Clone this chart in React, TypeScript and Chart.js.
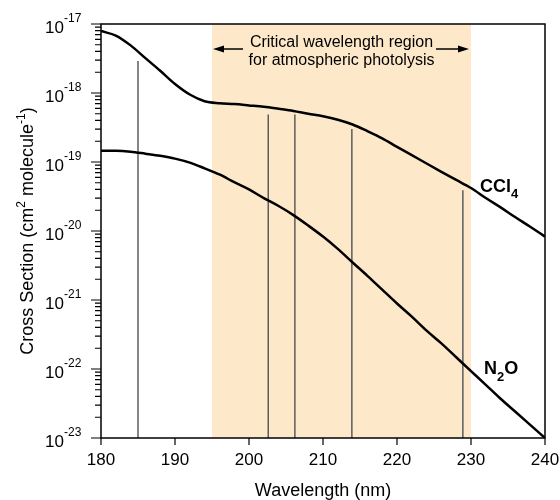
import React, { useEffect, useRef } from "react";
import { Chart, registerables } from "chart.js";

Chart.register(...registerables);

// ---- data ----
const wavelengths = [180, 182, 184, 186, 188, 190, 192, 194, 196, 198, 200, 202, 204, 206, 208, 210, 212, 214, 216, 218, 220, 222, 224, 226, 228, 230, 232, 234, 236, 238, 240];
const ccl4 = [7.9e-18, 6.8e-18, 4.9e-18, 3.2e-18, 2.1e-18, 1.35e-18, 9.5e-19, 7.6e-19, 7.1e-19, 6.9e-19, 6.6e-19, 6.3e-19, 5.9e-19, 5.5e-19, 5.0e-19, 4.6e-19, 4.1e-19, 3.5e-19, 2.8e-19, 2.2e-19, 1.66e-19, 1.26e-19, 9.5e-20, 7.2e-20, 5.5e-20, 4.2e-20, 3.0e-20, 2.2e-20, 1.58e-20, 1.15e-20, 8.3e-21];
const n2o = [1.45e-19, 1.45e-19, 1.41e-19, 1.32e-19, 1.23e-19, 1.12e-19, 9.8e-20, 8.1e-20, 6.6e-20, 5.1e-20, 4.0e-20, 3.0e-20, 2.3e-20, 1.7e-20, 1.2e-20, 8.3e-21, 5.5e-21, 3.5e-21, 2.24e-21, 1.41e-21, 8.9e-22, 5.75e-22, 3.6e-22, 2.35e-22, 1.48e-22, 9.3e-23, 5.9e-23, 3.7e-23, 2.4e-23, 1.55e-23, 1.0e-23];
const lineWavelengths = [185, 202.6, 206.2, 213.9, 228.9];
const lineTops = [2.9e-18, 4.9e-19, 4.9e-19, 3.0e-19, 3.9e-20];
const regionStart = 195;
const regionEnd = 230;
const xTicks = [180, 190, 200, 210, 220, 230, 240];
const yExponents = [-17, -18, -19, -20, -21, -22, -23];
const yMin = 1e-23;
const yMax = 1e-17;
const regionText = ["Critical wavelength region", "for atmospheric photolysis"];

const FONT = "'Liberation Sans', Arial, sans-serif";

const decorPlugin = {
  id: "decor",
  beforeDatasetsDraw(chart: any) {
    const { ctx, chartArea: a, scales } = chart;
    const x = scales.x;
    const x0 = x.getPixelForValue(regionStart);
    const x1 = x.getPixelForValue(regionEnd);
    ctx.save();
    ctx.fillStyle = "#fde9c9";
    ctx.fillRect(x0, a.top, x1 - x0, a.bottom - a.top);
    ctx.restore();
  },
  afterDraw(chart: any) {
    const { ctx, chartArea: a, scales } = chart;
    const x = scales.x;
    const y = scales.y;
    ctx.save();
    // frame
    ctx.strokeStyle = "#000";
    ctx.lineWidth = 1.5;
    ctx.strokeRect(a.left, a.top, a.right - a.left, a.bottom - a.top);

    // y ticks
    ctx.lineWidth = 1.2;
    ctx.beginPath();
    for (const e of yExponents) {
      const py = y.getPixelForValue(Math.pow(10, e));
      ctx.moveTo(a.left - 10, py);
      ctx.lineTo(a.left, py);
      if (e < -17) {
        for (let m = 2; m <= 9; m++) {
          const pm = y.getPixelForValue(m * Math.pow(10, e));
          ctx.moveTo(a.left - 6, pm);
          ctx.lineTo(a.left, pm);
        }
      }
    }
    // x ticks
    for (const t of xTicks) {
      const px = x.getPixelForValue(t);
      ctx.moveTo(px, a.bottom);
      ctx.lineTo(px, a.bottom + 7);
    }
    ctx.stroke();

    ctx.fillStyle = "#000";
    // y tick labels
    for (const e of yExponents) {
      const py = y.getPixelForValue(Math.pow(10, e));
      ctx.font = `17px ${FONT}`;
      ctx.textAlign = "right";
      ctx.textBaseline = "alphabetic";
      ctx.fillText("10", 64, py + 9);
      ctx.font = `12px ${FONT}`;
      ctx.textAlign = "left";
      ctx.fillText(String(e), 64, py - 2);
    }
    // x tick labels
    ctx.font = `17px ${FONT}`;
    ctx.textAlign = "center";
    for (const t of xTicks) {
      ctx.fillText(String(t), x.getPixelForValue(t), 465);
    }
    // x title
    ctx.font = `18px ${FONT}`;
    ctx.fillText("Wavelength (nm)", (a.left + a.right) / 2, 496);

    // y title with superscripts
    const segs = [
      { t: "Cross Section (cm", sup: false },
      { t: "2", sup: true },
      { t: " molecule", sup: false },
      { t: "-1", sup: true },
      { t: ")", sup: false },
    ];
    let total = 0;
    for (const s of segs) {
      ctx.font = s.sup ? `12px ${FONT}` : `18px ${FONT}`;
      total += ctx.measureText(s.t).width;
    }
    ctx.save();
    ctx.translate(26, (a.top + a.bottom) / 2);
    ctx.rotate(-Math.PI / 2);
    ctx.textAlign = "left";
    let cx = -total / 2;
    for (const s of segs) {
      ctx.font = s.sup ? `12px ${FONT}` : `18px ${FONT}`;
      ctx.fillText(s.t, cx, s.sup ? -1 : 7);
      cx += ctx.measureText(s.t).width;
    }
    ctx.restore();

    // region annotation
    const rx0 = x.getPixelForValue(regionStart);
    const rx1 = x.getPixelForValue(regionEnd);
    const mid = (rx0 + rx1) / 2;
    ctx.font = `16px ${FONT}`;
    ctx.textAlign = "center";
    ctx.fillStyle = "#000";
    ctx.fillText(regionText[0], mid, 47);
    ctx.fillText(regionText[1], mid, 64.5);
    const ay = 49;
    ctx.lineWidth = 1.5;
    ctx.beginPath();
    ctx.moveTo(rx0 + 10, ay);
    ctx.lineTo(rx0 + 31, ay);
    ctx.moveTo(rx1 - 35, ay);
    ctx.lineTo(rx1 - 12, ay);
    ctx.stroke();
    ctx.beginPath();
    ctx.moveTo(rx0 + 1, ay);
    ctx.lineTo(rx0 + 12, ay - 3.5);
    ctx.lineTo(rx0 + 12, ay + 3.5);
    ctx.closePath();
    ctx.moveTo(rx1 - 2, ay);
    ctx.lineTo(rx1 - 13, ay - 3.5);
    ctx.lineTo(rx1 - 13, ay + 3.5);
    ctx.closePath();
    ctx.fill();

    // series labels
    ctx.textAlign = "left";
    ctx.font = `bold 18px ${FONT}`;
    ctx.fillText("CCl", 480, 192);
    let w = ctx.measureText("CCl").width;
    ctx.font = `bold 13px ${FONT}`;
    ctx.fillText("4", 480 + w, 198);

    ctx.font = `bold 18px ${FONT}`;
    ctx.fillText("N", 484, 374);
    w = ctx.measureText("N").width;
    ctx.font = `bold 13px ${FONT}`;
    ctx.fillText("2", 484 + w, 381);
    const w2 = ctx.measureText("2").width;
    ctx.font = `bold 18px ${FONT}`;
    ctx.fillText("O", 484 + w + w2, 374);

    ctx.restore();
  },
};

export default function App() {
  const ref = useRef<HTMLCanvasElement>(null);
  useEffect(() => {
    if (!ref.current) return;
    const lineSets = lineWavelengths.map((wl, i) => ({
      data: [
        { x: wl, y: yMin },
        { x: wl, y: lineTops[i] },
      ],
      borderColor: "#5c5c5c",
      borderWidth: 1.5,
      pointRadius: 0,
      tension: 0,
      order: 2,
    }));
    const chart = new Chart(ref.current, {
      type: "line",
      data: {
        datasets: [
          {
            label: "CCl4",
            data: wavelengths.map((w, i) => ({ x: w, y: ccl4[i] })),
            borderColor: "#000",
            borderWidth: 2.5,
            pointRadius: 0,
            cubicInterpolationMode: "monotone",
            order: 1,
          },
          {
            label: "N2O",
            data: wavelengths.map((w, i) => ({ x: w, y: n2o[i] })),
            borderColor: "#000",
            borderWidth: 2.5,
            pointRadius: 0,
            cubicInterpolationMode: "monotone",
            order: 1,
          },
          ...lineSets,
        ],
      },
      options: {
        animation: false,
        responsive: true,
        maintainAspectRatio: false,
        layout: { padding: { left: 101, top: 24, right: 15, bottom: 62 } },
        plugins: { legend: { display: false }, tooltip: { enabled: false } },
        scales: {
          x: { type: "linear", min: 180, max: 240, display: false },
          y: { type: "logarithmic", min: yMin, max: yMax, display: false },
        },
      },
      plugins: [decorPlugin],
    } as any);
    return () => chart.destroy();
  }, []);
  return (
    <div style={{ position: "fixed", left: 0, top: 0, width: 560, height: 500, background: "#fff" }}>
      <canvas ref={ref} />
    </div>
  );
}
